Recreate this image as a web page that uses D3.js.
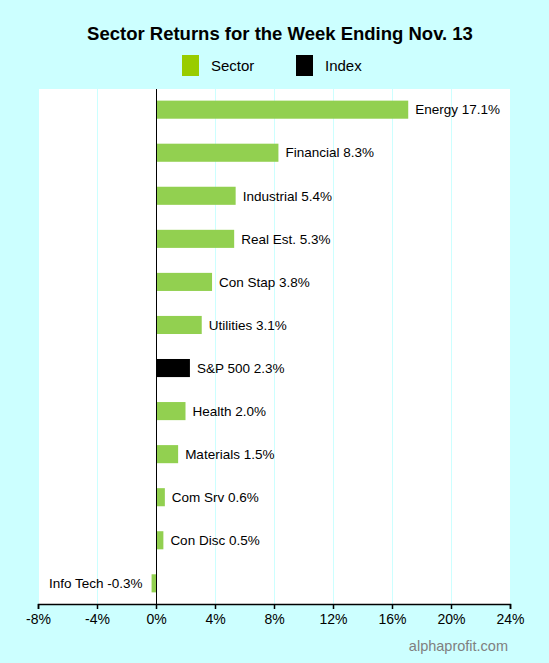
<!DOCTYPE html>
<html>
<head>
<meta charset="utf-8">
<script src="https://cdn.jsdelivr.net/npm/d3@7"></script>
<style>
  body { margin: 0; background: #ccffff; }
  svg { display: block; font-family: "Liberation Sans", Arial, sans-serif; }
</style>
</head>
<body>
<svg id="chart" width="549" height="663"></svg>
<script>
// Sector returns, top to bottom as shown
const sectors = ['Energy', 'Financial', 'Industrial', 'Real Est.', 'Con Stap', 'Utilities', 'S&P 500', 'Health', 'Materials', 'Com Srv', 'Con Disc', 'Info Tech'];
const returns = [17.1, 8.3, 5.4, 5.3, 3.8, 3.1, 2.3, 2.0, 1.5, 0.6, 0.5, -0.3];
const kinds = ['Sector', 'Sector', 'Sector', 'Sector', 'Sector', 'Sector', 'Index', 'Sector', 'Sector', 'Sector', 'Sector', 'Sector'];
const xTicks = [-8, -4, 0, 4, 8, 12, 16, 20, 24];
const legendItems = ['Sector', 'Index'];

const width = 549;
const height = 663;
const margin = { top: 89, right: 39, bottom: 59, left: 38 };

const svg = d3.select('#chart');

const data = sectors.map((name, i) => ({ name, value: returns[i], kind: kinds[i] }));

const xScale = d3.scaleLinear()
  .domain([-8, 24])
  .range([margin.left, width - margin.right]);

const yScale = d3.scaleBand()
  .domain(sectors)
  .range([margin.top, height - margin.bottom])
  .paddingInner(0.58)
  .paddingOuter(0.27);

const barColor = { Sector: '#92d050', Index: '#000000' };
const legendColor = { Sector: '#99cc00', Index: '#000000' };

// plot background
svg.append('rect')
  .attr('x', margin.left)
  .attr('y', margin.top)
  .attr('width', width - margin.left - margin.right)
  .attr('height', height - margin.top - margin.bottom)
  .attr('fill', '#ffffff');

// vertical grid
svg.append('g')
  .selectAll('line')
  .data(xTicks.filter(t => t !== 0))
  .enter()
  .append('line')
  .attr('x1', d => xScale(d) + 0.5)
  .attr('x2', d => xScale(d) + 0.5)
  .attr('y1', margin.top)
  .attr('y2', height - margin.bottom)
  .attr('stroke', '#ccffff')
  .attr('stroke-width', 1);

// bars
svg.append('g')
  .selectAll('rect')
  .data(data)
  .enter()
  .append('rect')
  .attr('x', d => xScale(Math.min(0, d.value)))
  .attr('y', d => yScale(d.name))
  .attr('width', d => Math.abs(xScale(d.value) - xScale(0)))
  .attr('height', yScale.bandwidth())
  .attr('fill', d => barColor[d.kind]);

// bar labels
svg.append('g')
  .selectAll('text')
  .data(data)
  .enter()
  .append('text')
  .attr('x', d => d.value >= 0 ? xScale(d.value) + 7 : xScale(d.value) - 9)
  .attr('y', d => yScale(d.name) + yScale.bandwidth() / 2)
  .attr('dy', '0.35em')
  .attr('text-anchor', d => d.value >= 0 ? 'start' : 'end')
  .attr('font-size', 13.5)
  .attr('fill', '#000')
  .text(d => `${d.name} ${d.value.toFixed(1)}%`);

// zero line
svg.append('line')
  .attr('x1', xScale(0) + 0.5)
  .attr('x2', xScale(0) + 0.5)
  .attr('y1', margin.top)
  .attr('y2', height - margin.bottom)
  .attr('stroke', '#000')
  .attr('stroke-width', 1);

// x-axis
const xAxis = svg.append('g')
  .attr('transform', `translate(0, ${height - margin.bottom})`)
  .call(d3.axisBottom(xScale).tickValues(xTicks).tickSize(5).tickPadding(5).tickFormat(d => `${d}%`));
xAxis.select('.domain').attr('stroke', '#000').attr('stroke-width', 1.5);
xAxis.selectAll('.tick line').attr('stroke', '#000').attr('stroke-width', 1.5);
xAxis.selectAll('text')
  .attr('font-size', 14)
  .attr('font-family', '"Liberation Sans", Arial, sans-serif')
  .attr('fill', '#000');

// title
svg.append('text')
  .attr('x', 280)
  .attr('y', 34)
  .attr('dy', '0.35em')
  .attr('text-anchor', 'middle')
  .attr('font-size', 18.5)
  .attr('font-weight', 'bold')
  .attr('fill', '#000')
  .text('Sector Returns for the Week Ending Nov. 13');

// legend
const legend = svg.append('g')
  .selectAll('g')
  .data(legendItems)
  .enter()
  .append('g')
  .attr('transform', (d, i) => `translate(${182 + i * 114}, 55)`);

legend.append('rect')
  .attr('width', 17)
  .attr('height', 21)
  .attr('fill', d => legendColor[d]);

legend.append('text')
  .attr('x', 29)
  .attr('y', 11)
  .attr('dy', '0.35em')
  .attr('font-size', 15)
  .attr('fill', '#000')
  .text(d => d);

// source
svg.append('text')
  .attr('x', 508)
  .attr('y', 646)
  .attr('dy', '0.35em')
  .attr('text-anchor', 'end')
  .attr('font-size', 14.5)
  .attr('fill', '#808080')
  .text('alphaprofit.com');
</script>
</body>
</html>
